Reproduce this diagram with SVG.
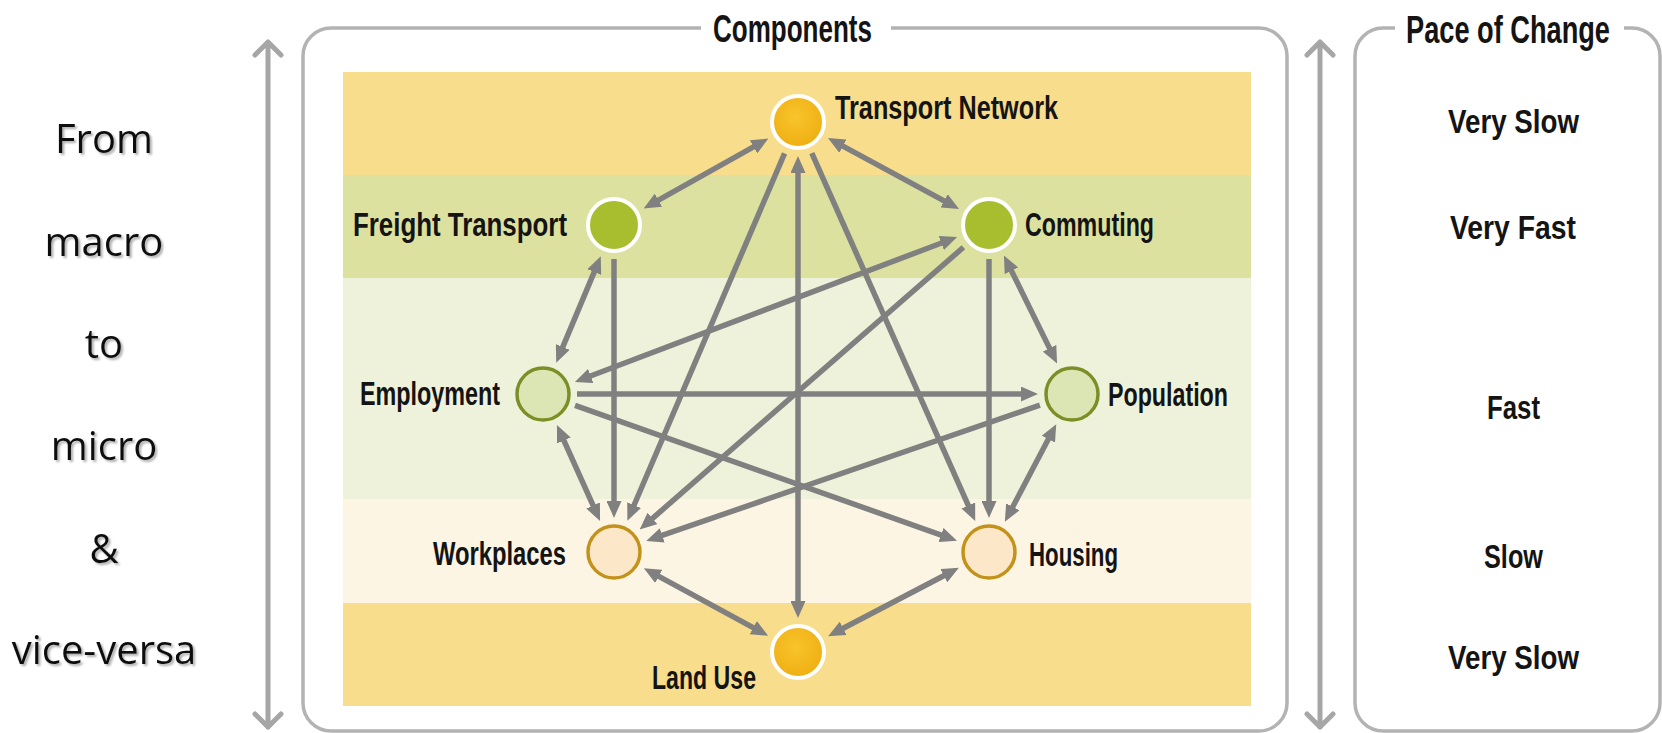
<svg xmlns="http://www.w3.org/2000/svg" width="1662" height="733" viewBox="0 0 1662 733">
<defs>
<style>
.lbl{font-family:"Liberation Sans",Arial,sans-serif;font-weight:bold;font-size:34px;fill:#141414}
.ttl{font-family:"Liberation Sans",Arial,sans-serif;font-weight:bold;font-size:38px;fill:#141414}
.side{font-family:"Open Sans","Noto Sans",sans-serif;font-size:40px;fill:#111;text-anchor:middle}
.frame{fill:none;stroke:#B3B3B3;stroke-width:3.5}
.axis{fill:none;stroke:#A6A6A6;stroke-width:5;stroke-linecap:round;stroke-linejoin:round}
.c{fill:none;stroke:#808080;stroke-width:5.5}
.bi{marker-start:url(#ah);marker-end:url(#ah)}
.one{marker-end:url(#ah)}
.n1{fill:url(#gOr);stroke:#FFFFFF;stroke-width:4}
.n2{fill:#A9BE2F;stroke:#FFFFFF;stroke-width:4}
.n3{fill:#DCE6B4;stroke:#7C8F26;stroke-width:3.5}
.n4{fill:#FCE8C9;stroke:#C3921A;stroke-width:3.5}
</style>
<radialGradient id="gOr" cx="0.45" cy="0.4" r="0.6">
<stop offset="0" stop-color="#F8C42C"/>
<stop offset="1" stop-color="#EFAF12"/>
</radialGradient>
<marker id="ah" viewBox="0 0 17 15" refX="1" refY="7.5" markerWidth="17" markerHeight="15" markerUnits="userSpaceOnUse" orient="auto-start-reverse">
<path d="M0,0 L17,7.5 L0,15 z" fill="#808080"/>
</marker>
<filter id="sh" x="-10%" y="-30%" width="130%" height="160%">
<feDropShadow dx="2" dy="2" stdDeviation="1.2" flood-color="#777" flood-opacity="0.6"/>
</filter>
</defs>
<rect width="1662" height="733" fill="#FFFFFF"/>

<g id="left-label" filter="url(#sh)">
<text class="side" x="104" y="153">From</text>
<text class="side" x="104" y="256">macro</text>
<text class="side" x="104" y="358">to</text>
<text class="side" x="104" y="460">micro</text>
<text class="side" x="104" y="563">&amp;</text>
<text class="side" x="104" y="664">vice-versa</text>
</g>

<g id="axes">
<path class="axis" d="M268,42 V727 M255,55 L268,42 L281,55 M255,714 L268,727 L281,714"/>
<path class="axis" d="M1320,42 V727 M1307,55 L1320,42 L1333,55 M1307,714 L1320,727 L1333,714"/>
</g>

<g id="components-frame">
<path class="frame" d="M701,28 H331 A28,28 0 0 0 303,56 V703 A28,28 0 0 0 331,731 H1259 A28,28 0 0 0 1287,703 V56 A28,28 0 0 0 1259,28 H891"/>
<text class="ttl" x="713" y="42" textLength="159" lengthAdjust="spacingAndGlyphs">Components</text>
</g>

<g id="pace-frame">
<path class="frame" d="M1395,28 H1383 A28,28 0 0 0 1355,56 V703 A28,28 0 0 0 1383,731 H1632 A28,28 0 0 0 1660,703 V56 A28,28 0 0 0 1632,28 H1624"/>
<text class="ttl" x="1406" y="43" textLength="204" lengthAdjust="spacingAndGlyphs">Pace of Change</text>
<text class="lbl" x="1448" y="133" textLength="131" lengthAdjust="spacingAndGlyphs">Very Slow</text>
<text class="lbl" x="1450" y="239" textLength="126" lengthAdjust="spacingAndGlyphs">Very Fast</text>
<text class="lbl" x="1487" y="419" textLength="53" lengthAdjust="spacingAndGlyphs">Fast</text>
<text class="lbl" x="1484" y="568" textLength="59" lengthAdjust="spacingAndGlyphs">Slow</text>
<text class="lbl" x="1448" y="669" textLength="131" lengthAdjust="spacingAndGlyphs">Very Slow</text>
</g>

<g id="bands">
<rect x="343" y="72" width="908" height="103" fill="#F8DD8C"/>
<rect x="343" y="175" width="908" height="103" fill="#DDE1A0"/>
<rect x="343" y="278" width="908" height="221" fill="#EFF2DA"/>
<rect x="343" y="499" width="908" height="104" fill="#FDF5E4"/>
<rect x="343" y="603" width="908" height="103" fill="#F8DD8C"/>
</g>

<g id="connectors">
<path class="c bi" d="M754.4,146.4 L657.6,200.6"/>
<path class="c bi" d="M842,145.7 L945,201.3"/>
<path class="c bi" d="M594.6,271.1 L562.4,347.9"/>
<path class="c bi" d="M1011,269.9 L1050,349.1"/>
<path class="c bi" d="M563.5,439.6 L593.5,506.4"/>
<path class="c bi" d="M1048.8,438.3 L1012.3,507.7"/>
<path class="c bi" d="M657.9,575.9 L754.1,628.1"/>
<path class="c bi" d="M944.7,575.2 L842.3,628.8"/>
<path class="c bi" d="M798,172 L798,602"/>
<path class="c one" d="M614,259 L614,502"/>
<path class="c one" d="M989,259 L989,502"/>
<path class="c one" d="M784.6,153.3 L633.7,506"/>
<path class="c one" d="M963.4,247.3 L651.7,519.1"/>
<path class="c one" d="M1039.9,405.1 L661.3,535.7"/>
<path class="c one" d="M811.8,153.1 L968.7,506.3"/>
<path class="c one" d="M575,405.4 L941.9,535.3"/>
<path class="c one" d="M577,394 L1022,394"/>
<path class="c bi" d="M589.8,376.3 L942.2,242.7"/>
</g>

<g id="node-transport-network">
<circle class="n1" cx="798" cy="122" r="26"/>
<text class="lbl" x="835" y="119" textLength="223" lengthAdjust="spacingAndGlyphs">Transport Network</text>
</g>
<g id="node-freight-transport">
<circle class="n2" cx="614" cy="225" r="26"/>
<text class="lbl" x="353" y="236" textLength="214" lengthAdjust="spacingAndGlyphs">Freight Transport</text>
</g>
<g id="node-commuting">
<circle class="n2" cx="989" cy="225" r="26"/>
<text class="lbl" x="1025" y="236" textLength="129" lengthAdjust="spacingAndGlyphs">Commuting</text>
</g>
<g id="node-employment">
<circle class="n3" cx="543" cy="394" r="26"/>
<text class="lbl" x="360" y="405" textLength="140" lengthAdjust="spacingAndGlyphs">Employment</text>
</g>
<g id="node-population">
<circle class="n3" cx="1072" cy="394" r="26"/>
<text class="lbl" x="1108" y="406" textLength="120" lengthAdjust="spacingAndGlyphs">Population</text>
</g>
<g id="node-workplaces">
<circle class="n4" cx="614" cy="552" r="26"/>
<text class="lbl" x="433" y="565" textLength="133" lengthAdjust="spacingAndGlyphs">Workplaces</text>
</g>
<g id="node-housing">
<circle class="n4" cx="989" cy="552" r="26"/>
<text class="lbl" x="1029" y="566" textLength="89" lengthAdjust="spacingAndGlyphs">Housing</text>
</g>
<g id="node-land-use">
<circle class="n1" cx="798" cy="652" r="26"/>
<text class="lbl" x="652" y="689" textLength="104" lengthAdjust="spacingAndGlyphs">Land Use</text>
</g>
</svg>
